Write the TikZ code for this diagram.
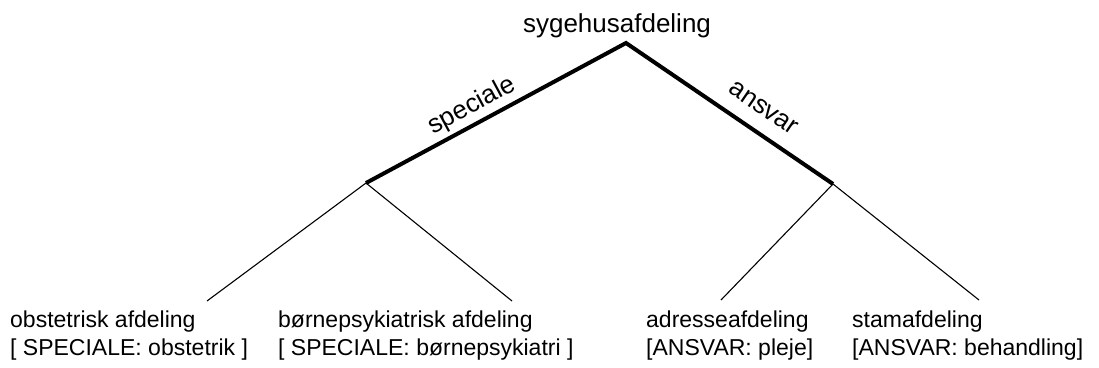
\documentclass[tikz,border=0pt]{standalone}
\usepackage{fontspec}
\setmainfont{Liberation Sans}
\usetikzlibrary{calc}
\newcommand\leaffont{\fontsize{23}{28}\selectfont}
\newcommand\headfont{\fontsize{26}{30}\selectfont}
\begin{document}
\begin{tikzpicture}[x=1pt,y=-1pt,
  trunk/.style={line width=4pt, line join=miter},
  twig/.style={line width=1.1pt},
  leaf/.style={anchor=base west, align=left, inner sep=0pt, font=\leaffont},
  edgelabel/.style={sloped, anchor=base, inner sep=0pt, font=\headfont}]
\useasboundingbox (0,0) rectangle (1099,367);

% root and branching points
\node[anchor=base, inner sep=0pt, font=\headfont] (root) at (617,32) {sygehusafdeling};
\coordinate (apex) at (626,43);
\coordinate (jl) at (366,183);
\coordinate (jr) at (833,184);

% main dimensions
\draw[trunk] (jl) -- (apex) -- (jr);
\path ($(jl)!10.8pt!90:(apex)$) -- ($(apex)!10.8pt!-90:(jl)$)
  node[edgelabel, pos=0.44] (lspec) {speciale};
\path ($(apex)!16.6pt!90:(jr)$) -- ($(jr)!16.6pt!-90:(apex)$)
  node[edgelabel, pos=0.6] (lansv) {ansvar};

% leaves (anchored at the baseline of their second line)
\node[leaf] (obst) at (10,355) {obstetrisk afdeling\\{[} SPECIALE: obstetrik ]};
\node[leaf] (born) at (278,355) {børnepsykiatrisk afdeling\\{[} SPECIALE: børnepsykiatri ]};
\node[leaf] (adr) at (646,355) {adresseafdeling\\{[}ANSVAR: pleje]};
\node[leaf] (stam) at (852,355) {stamafdeling\\{[}ANSVAR: behandling]};

% ends of the leaf connectors
\coordinate (eobst) at (207,301);
\coordinate (eborn) at (512,301);
\coordinate (eadr) at (721,300);
\coordinate (estam) at (979,300);

\draw[twig] (jl) -- (eobst);
\draw[twig] (jl) -- (eborn);
\draw[twig] (jr) -- (eadr);
\draw[twig] (jr) -- (estam);
\end{tikzpicture}
\end{document}
